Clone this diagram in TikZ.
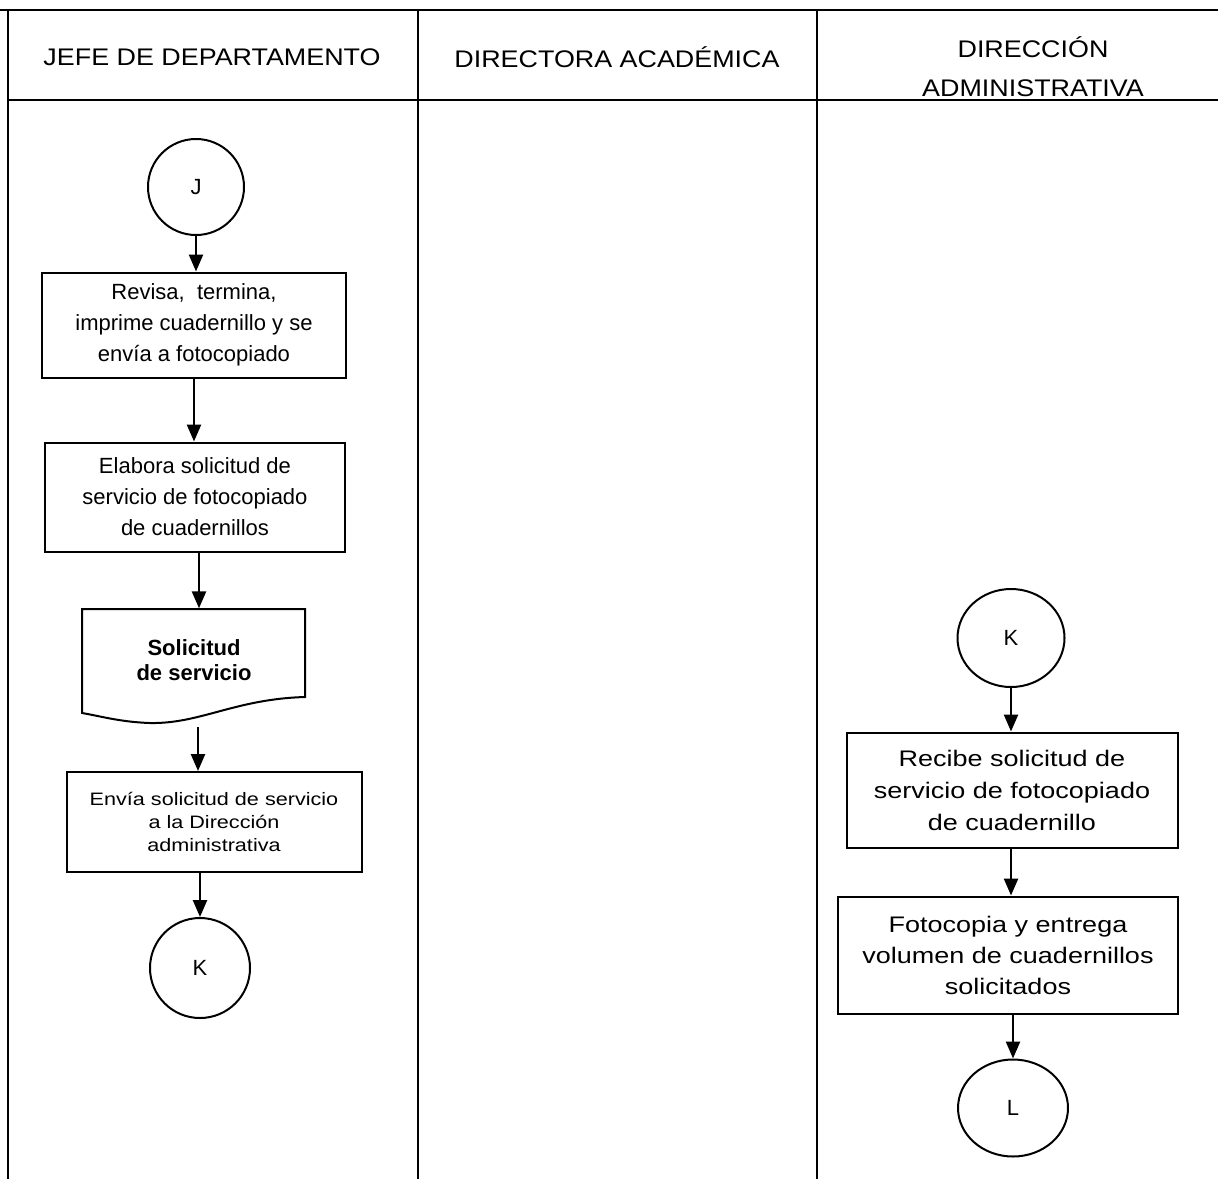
\documentclass[tikz,border=0pt]{standalone}
\usepackage{fontspec}
\setmainfont{Liberation Sans}
\newfontfamily\hdrfont[FakeStretch=1.12]{Liberation Sans}
\newfontfamily\widefont[FakeStretch=1.2]{Liberation Sans}
\usetikzlibrary{arrows.meta,shapes.geometric}
\begin{document}
\begin{tikzpicture}[x=1pt,y=-1pt,
  frame/.style={line width=2pt,black},
  procbox/.style={draw,line width=2pt,align=center,inner sep=0pt},
  conn/.style={draw,circle,line width=2pt,inner sep=0pt,font=\fontsize{22}{26}\selectfont},
  connel/.style={draw,ellipse,line width=2pt,inner sep=0pt,font=\fontsize{22}{26}\selectfont},
  flow/.style={line width=2.5pt,-{Triangle[length=17pt,width=14pt]}},
  hdr/.style={align=center,font=\hdrfont\fontsize{24}{39}\selectfont}
]
\useasboundingbox (0,0) rectangle (1218,1179);
% frame
\draw[frame] (0,10) -- (1218,10);
\draw[frame] (8,100) -- (1218,100);
\draw[frame] (8,10) -- (8,1179);
\draw[frame] (418,10) -- (418,1179);
\draw[frame] (817,10) -- (817,1179);
% headers
\node[hdr] (h1) at (212,57) {JEFE DE DEPARTAMENTO};
\node[hdr] (h2) at (617,57) {DIRECTORA ACADÉMICA};
\node[hdr] (h3) at (1033,67) {DIRECCIÓN\\ADMINISTRATIVA};
% left lane
\node[conn,minimum size=96pt] (J) at (196,187) {J};
\node[procbox,minimum width=304pt,minimum height=105pt,font=\fontsize{22}{31}\selectfont] (b1) at (194,325) {Revisa,\ \ termina,\\imprime cuadernillo y se\\envía a fotocopiado};
\node[procbox,minimum width=300pt,minimum height=109pt,font=\fontsize{22}{31}\selectfont] (b2) at (195,497) {Elabora solicitud de\\servicio de fotocopiado\\de cuadernillos};
\node[align=center,inner sep=0pt,minimum width=223pt,minimum height=103pt,font=\bfseries\fontsize{22}{25}\selectfont] (doc) at (194,660) {Solicitud\\de servicio};
\draw[line width=2pt] (82,609) -- (305,609) -- (305,697)
  .. controls (235,699) and (200,724) .. (150,723)
  .. controls (120,722) and (100,716) .. (82,713) -- cycle;
\coordinate (docout) at (198,727);
\node[procbox,minimum width=295pt,minimum height=100pt,font=\widefont\fontsize{18}{23}\selectfont] (b3) at (214,822) {Envía solicitud de servicio\\a la Dirección\\administrativa};
\node[conn,minimum size=100pt] (K1) at (200,968) {K};
% right lane
\node[connel,minimum width=107pt,minimum height=98pt] (K2) at (1011,638) {K};
\node[procbox,minimum width=331pt,minimum height=115pt,font=\widefont\fontsize{22.5}{32}\selectfont] (b4) at (1012,790) {Recibe solicitud de\\servicio de fotocopiado\\de cuadernillo};
\node[procbox,minimum width=340pt,minimum height=117pt,font=\widefont\fontsize{22.5}{31}\selectfont] (b5) at (1008,955) {Fotocopia y entrega\\volumen de cuadernillos\\solicitados};
\node[connel,minimum width=110pt,minimum height=97pt] (L) at (1013,1108) {L};
% arrows
\draw[flow] (J.south) -- (J.south |- b1.north);
\draw[flow] (b1.south) -- (b1.south |- b2.north);
\draw[flow] ([xshift=4pt]b2.south) -- ([xshift=4pt]b2.south |- doc.north);
\draw[flow] (docout) -- (docout |- b3.north);
\draw[flow] (K1.north |- b3.south) -- (K1.north);
\draw[flow] (K2.south) -- (K2.south |- b4.north);
\draw[flow] (K2.south |- b4.south) -- (K2.south |- b5.north);
\draw[flow] (L.north |- b5.south) -- (L.north);
\end{tikzpicture}
\end{document}
